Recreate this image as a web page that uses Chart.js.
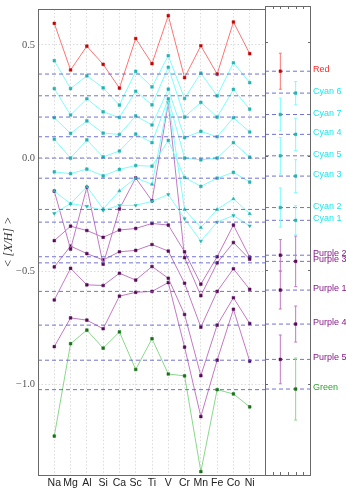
<!DOCTYPE html>
<html>
<head>
<meta charset="utf-8">
<script src="https://cdn.jsdelivr.net/npm/chart.js@4.4.0/dist/chart.umd.min.js"></script>
<style>
  html, body { margin: 0; padding: 0; background: #fff; }
  #wrap { position: relative; width: 346px; height: 494px; overflow: hidden; }
  #main { position: absolute; left: 0; top: 0; }
  #side { position: absolute; left: 265px; top: 0; }
</style>
</head>
<body>
<div id="wrap">
  <canvas id="main" width="266" height="494"></canvas>
  <canvas id="side" width="81" height="494"></canvas>
</div>
<script>
// elements on the x axis
const elements = ['Na','Mg','Al','Si','Ca','Sc','Ti','V','Cr','Mn','Fe','Co','Ni'];
const yTicks = [0.5, 0.0, -0.5, -1.0];
const sideTicks = [1, 2, 3, 4, 5];

// <[X/H]> per group, one value per element
const red     = [0.595,0.389,0.494,0.414,0.309,0.528,0.417,0.629,0.355,0.496,0.371,0.601,0.461];
const cyan6   = [0.430,0.307,0.363,0.310,0.234,0.383,0.314,0.452,0.263,0.375,0.275,0.421,0.333];
const cyan7   = [0.307,0.190,0.262,0.204,0.179,0.295,0.235,0.401,0.181,0.246,0.181,0.303,0.216];
const cyan4   = [0.178,0.109,0.164,0.110,0.104,0.186,0.146,0.304,0.090,0.118,0.094,0.178,0.115];
const cyan5   = [0.083,0.000,0.080,0.005,0.031,0.106,0.068,0.262,0.000,-0.008,0.000,0.068,0.004];
const cyan3   = [-0.061,-0.069,-0.049,-0.079,-0.050,-0.033,-0.036,0.078,-0.086,-0.125,-0.089,-0.063,-0.106];
const cyan2   = [-0.146,-0.202,-0.126,-0.225,-0.145,-0.088,-0.116,0.253,-0.227,-0.307,-0.227,-0.180,-0.246];
const cyan1   = [-0.245,-0.201,-0.213,-0.231,-0.209,-0.209,-0.191,-0.161,-0.268,-0.367,-0.283,-0.254,-0.300];
const purple2 = [-0.365,-0.301,-0.320,-0.350,-0.318,-0.311,-0.289,-0.296,-0.414,-0.557,-0.436,-0.296,-0.438];
const purple3 = [-0.146,-0.402,-0.129,-0.469,-0.225,-0.088,-0.189,0.244,-0.440,-0.608,-0.463,-0.373,-0.447];
const purple1 = [-0.481,-0.389,-0.422,-0.450,-0.414,-0.408,-0.382,-0.411,-0.553,-0.747,-0.589,-0.489,-0.580];
const purple4 = [-0.627,-0.487,-0.560,-0.563,-0.509,-0.539,-0.479,-0.531,-0.691,-0.961,-0.738,-0.617,-0.731];
const purple5 = [-0.833,-0.706,-0.716,-0.754,-0.610,-0.593,-0.589,-0.550,-0.835,-1.142,-0.893,-0.668,-0.897];
const green   = [-1.228,-0.820,-0.760,-0.840,-0.768,-0.934,-0.798,-0.954,-0.962,-1.385,-1.023,-1.042,-1.099];

// groups, their reference level, error and slot in the side panel
const groupNames = ['Red','Cyan 6','Cyan 7','Cyan 4','Cyan 5','Cyan 3','Cyan 2','Cyan 1','Purple 2','Purple 3','Purple 1','Purple 4','Purple 5','Green'];
const groupSeries = [red,cyan6,cyan7,cyan4,cyan5,cyan3,cyan2,cyan1,purple2,purple3,purple1,purple4,purple5,green];
const groupLevel = [0.371,0.275,0.181,0.094,0.000,-0.089,-0.227,-0.283,-0.436,-0.463,-0.589,-0.738,-0.893,-1.023];
const groupErr   = [0.079,0.051,0.072,0.071,0.080,0.072,0.086,0.064,0.069,0.111,0.083,0.079,0.107,0.136];
const groupSlot  = [2,4,2,4,2,4,2,4,2,4,2,4,2,4];
const groupFamily = ['red','cyan','cyan','cyan','cyan','cyan','cyan','cyan','purple','purple','purple','purple','purple','green'];
const groupMarker = ['rect','rect','rect','rect','rect','rect','triangle','triangle','rect','rect','rect','rect','rect','rect'];

const lineCol = {red:'#ff7373', cyan:'#7ffcfc', purple:'#c27ac2', green:'#8ad88a'};
const markCol = {red:'#c40000', cyan:'#26b2b2', purple:'#560a56', green:'#187018'};
const textCol = {red:'#ff2a2a', cyan:'#1ae8ee', purple:'#8a1a8a', green:'#2ea42e'};
const dashCol = 'rgba(88,88,200,0.85)';

const yMin = -1.40, yMax = 0.657;

var frame = {
  id: 'frame',
  afterDraw: function(chart) {
    var a = chart.chartArea, ctx = chart.ctx;
    ctx.save();
    ctx.strokeStyle = '#6a6a6a';
    ctx.lineWidth = 1;
    ctx.strokeRect(Math.round(a.left) + 0.5, Math.round(a.top) + 0.5, Math.round(a.right - a.left) - 1, Math.round(a.bottom - a.top));
    ctx.restore();
  }
};

// main panel
var mainSets = [];
for (var g = 0; g < groupNames.length; g++) {
  mainSets.push({
    data: [{x: -1, y: groupLevel[g]}, {x: 13, y: groupLevel[g]}],
    borderColor: dashCol, borderWidth: 1, borderDash: [4, 3],
    pointRadius: 0, order: 1
  });
}
for (var g = 0; g < groupNames.length; g++) {
  var f = groupFamily[g];
  mainSets.push({
    data: groupSeries[g].map(function(v, i) { return {x: i, y: v}; }),
    borderColor: lineCol[f], borderWidth: 1,
    pointStyle: groupMarker[g], pointRotation: g == 7 ? 180 : 0,
    pointRadius: 1.9, pointBackgroundColor: markCol[f], pointBorderColor: markCol[f], pointBorderWidth: 0.5,
    order: 2
  });
}

new Chart(document.getElementById('main'), {
  type: 'line',
  data: {datasets: mainSets},
  options: {
    responsive: false, animation: false,
    layout: {autoPadding: false, padding: {top: 6, right: 0, left: 0, bottom: 0}},
    plugins: {legend: {display: false}, tooltip: {enabled: false}},
    scales: {
      x: {
        type: 'linear', min: -1, max: 13,
        afterBuildTicks: function(s) { s.ticks = elements.map(function(e, i) { return {value: i}; }); },
        afterFit: function(s) { s.height = 19; },
        ticks: {
          autoSkip: false, maxRotation: 0, padding: 2, color: '#222',
          font: {family: 'Liberation Sans', size: 10.5},
          callback: function(v) { return elements[v]; }
        },
        grid: {color: '#d2d2d2', lineWidth: 0.8, drawTicks: false},
        border: {display: false, dash: [1.5, 2]}
      },
      y: {
        min: yMin, max: yMax,
        afterBuildTicks: function(s) { s.ticks = yTicks.map(function(v) { return {value: v}; }); },
        afterFit: function(s) { s.width = 38; },
        ticks: {
          padding: 3, color: '#555',
          font: {family: 'Liberation Serif', size: 10.5},
          callback: function(v) { return v.toFixed(1).replace('-', '\u2212'); }
        },
        grid: {color: '#d2d2d2', lineWidth: 0.8, drawTicks: false},
        border: {display: false, dash: [1.5, 2]},
        title: {
          display: true, text: '< [X/H] >', color: '#333',
          font: {family: 'Liberation Serif', size: 12, style: 'italic'},
          padding: {top: 1.5, bottom: 0}
        }
      }
    }
  },
  plugins: [frame]
});

// side panel with group levels and errors
var sideSets = [];
for (var g = 0; g < groupNames.length; g++) {
  var f = groupFamily[g];
  sideSets.push({
    data: [{x: 0, y: groupLevel[g]}, {x: 6, y: groupLevel[g]}],
    borderColor: dashCol, borderWidth: 1, borderDash: [4, 3], pointRadius: 0, order: 3
  });
  sideSets.push({
    data: [{x: groupSlot[g], y: groupLevel[g] - groupErr[g]}, {x: groupSlot[g], y: groupLevel[g] + groupErr[g]}],
    borderColor: lineCol[f], borderWidth: 1,
    pointStyle: 'line', pointRadius: 1.5, pointBorderColor: lineCol[f], pointBorderWidth: 1, order: 2
  });
  sideSets.push({
    data: [{x: groupSlot[g], y: groupLevel[g]}],
    pointStyle: 'rect', pointRadius: 1.9,
    pointBackgroundColor: markCol[f], pointBorderColor: markCol[f], pointBorderWidth: 0.5,
    showLine: false, order: 1
  });
}

var sideDeco = {
  id: 'sideDeco',
  afterDraw: function(chart) {
    var a = chart.chartArea, ctx = chart.ctx;
    var xs = chart.scales.x, ys = chart.scales.y;
    ctx.save();
    ctx.strokeStyle = '#6a6a6a';
    ctx.lineWidth = 1;
    ctx.beginPath();
    sideTicks.forEach(function(t) {
      var px = Math.round(xs.getPixelForValue(t)) + 0.5;
      ctx.moveTo(px, a.bottom); ctx.lineTo(px, a.bottom - 3);
      ctx.moveTo(px, a.top); ctx.lineTo(px, a.top + 3);
    });
    yTicks.forEach(function(t) {
      var py = Math.round(ys.getPixelForValue(t)) + 0.5;
      ctx.moveTo(a.left, py); ctx.lineTo(a.left + 3, py);
      ctx.moveTo(a.right, py); ctx.lineTo(a.right - 3, py);
    });
    ctx.stroke();
    ctx.font = '9px "Liberation Sans"';
    ctx.textAlign = 'left';
    ctx.textBaseline = 'alphabetic';
    for (var g = 0; g < groupNames.length; g++) {
      ctx.fillStyle = textCol[groupFamily[g]];
      ctx.fillText(groupNames[g], a.right + 2, ys.getPixelForValue(groupLevel[g]) + 1);
    }
    ctx.restore();
  }
};

new Chart(document.getElementById('side'), {
  type: 'line',
  data: {datasets: sideSets},
  options: {
    responsive: false, animation: false,
    layout: {autoPadding: false, padding: {top: 6, right: 35, left: 0, bottom: 19}},
    plugins: {legend: {display: false}, tooltip: {enabled: false}},
    scales: {
      x: {type: 'linear', min: 0, max: 6, display: false},
      y: {min: yMin, max: yMax, display: false}
    }
  },
  plugins: [frame, sideDeco]
});
</script>
</body>
</html>
